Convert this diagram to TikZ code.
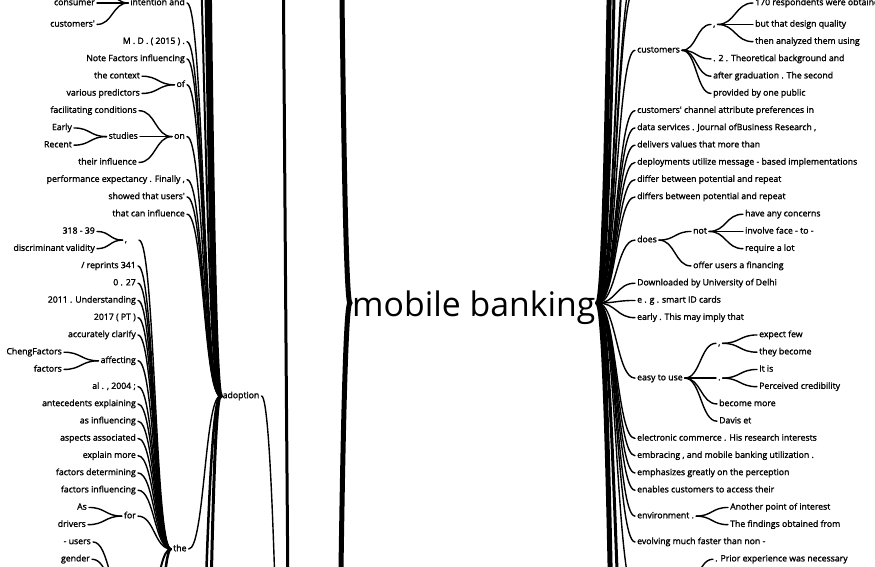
\documentclass[tikz,border=0pt]{standalone}
\usepackage{fontspec}
\setmainfont{Open Sans}
\newfontfamily\lfam[FakeBold=1.6]{Open Sans}
\usetikzlibrary{calc}
\newcommand\lf{\lfam\fontsize{8.7}{10}\selectfont}
\newcommand\wl[3][]{\draw[lk,#1] let \p1=(#2), \p2=(#3) in (\p1) .. controls ({(\x1+\x2)/2},\y1) and ({(\x1+\x2)/2},\y2) .. (\p2);}
\tikzset{
  lbl/.style={font=\lf, inner xsep=2pt, inner ysep=0pt, text height=6.5pt, text depth=2.1pt},
  L/.style={lbl, anchor=east},
  R/.style={lbl, anchor=west},
  lk/.style={line width=1.4pt, black, line cap=round}
}
\begin{document}
\begin{tikzpicture}[x=1pt,y=-1pt]
\useasboundingbox (0,0) rectangle (875,567);
\clip (0,0) rectangle (875,567);
\fill[white] (0,0) rectangle (875,567);
% root
\node[font=\fontsize{33.8}{40}\selectfont, inner xsep=2pt, inner ysep=0pt, text height=36pt, text depth=8.6pt, anchor=west] (root) at (350,303) {mobile banking};
% ---------- left tree ----------
\node[R] (adop) at (220.5,396) {adoption};
\node[R] (the) at (171,549) {the};
\node[L] (iand) at (187,3) {intention and};
\node[L] (cons) at (97,3) {consumer};
\node[L] (cust) at (97,24.45) {customers'};
\node[L] (md) at (187,41.7) {M . D . ( 2015 ) .};
\node[L] (note) at (187,58.95) {Note Factors influencing};
\node[L] (ofa) at (187,84.8) {of};
\node[L] (ctx) at (142,76.2) {the context};
\node[L] (vp) at (142,93.45) {various predictors};
\node[L] (on) at (187,136.6) {on};
\node[L] (fc) at (139,110.7) {facilitating conditions};
\node[L] (stu) at (140,136.6) {studies};
\node[L] (early) at (74,127.95) {Early};
\node[L] (recent) at (74,145.2) {Recent};
\node[L] (ti) at (139,162.45) {their influence};
\node[L] (perf) at (187,179.7) {performance expectancy . Finally ,};
\node[L] (sho) at (187,196.95) {showed that users'};
\node[L] (tci) at (187,214.2) {that can influence};
\node[L, text width=12pt, align=left] (cm) at (139,240.1) {,};
\node[L] (n318) at (97,231.45) {318 - 39};
\node[L] (dv) at (97,248.7) {discriminant validity};
\node[L] (rep) at (138,265.95) {/ reprints 341};
\node[L] (n027) at (138,283.2) {0 . 27};
\node[L] (u2011) at (138,300.45) {2011 . Understanding};
\node[L] (pt) at (138,317.7) {2017 ( PT )};
\node[L] (acc) at (138,334.95) {accurately clarify};
\node[L] (aff) at (138,360.8) {affecting};
\node[L] (cheng) at (64,352.2) {ChengFactors};
\node[L] (fac) at (64,369.45) {factors};
\node[L] (al) at (138,386.7) {al . , 2004 ;};
\node[L] (ant) at (138,403.95) {antecedents explaining};
\node[L] (asi) at (138,421.2) {as influencing};
\node[L] (asp) at (138,438.45) {aspects associated};
\node[L] (exm) at (138,455.7) {explain more};
\node[L] (fdet) at (138,472.95) {factors determining};
\node[L] (finf) at (138,490.2) {factors influencing};
\node[L] (forn) at (138,516.1) {for};
\node[L] (as) at (89,507.45) {As};
\node[L] (drv) at (88,524.7) {drivers};
\node[L] (usr) at (93,541.95) {- users};
\node[L] (gen) at (92,559.2) {gender};
% off-canvas ends (left)
\coordinate (iandUp) at (97,-15.25);
\coordinate (adUp1) at (187,-250);
\coordinate (adUp2) at (187,-700);
\coordinate (adUp3) at (187,-1600);
\coordinate (adDn1) at (187,900);
\coordinate (adDn2) at (187,1800);
\coordinate (theDn1) at (139,650);
\coordinate (theDn2) at (139,1000);
\coordinate (usrP) at (126,600);
\coordinate (ofW) at (305,1500);
\coordinate (ofE) at (324,1500);
\coordinate (upE) at (324,-1500);
\coordinate (ofUp) at (262,-1500);
% links (left)
\wl{cons.east}{iand.west}
\wl{cust.east}{iand.west}
\wl{iandUp}{iand.west}
\foreach \q in {iand,md,note,ofa,on,perf,sho,tci,the} {\wl{\q.east}{adop.west}}
\wl[line width=2pt]{adUp1}{adop.west}
\wl[line width=3pt]{adUp2}{adop.west}
\wl[line width=5pt]{adUp3}{adop.west}
\wl[line width=2.5pt]{adDn1}{adop.west}
\wl[line width=3pt]{adDn2}{adop.west}
\wl{ctx.east}{ofa.west}
\wl{vp.east}{ofa.west}
\wl{fc.east}{on.west}
\wl{stu.east}{on.west}
\wl{ti.east}{on.west}
\wl{early.east}{stu.west}
\wl{recent.east}{stu.west}
\foreach \q in {cm,rep,n027,u2011,pt,acc,aff,al,ant,asi,asp,exm,fdet,finf,forn} {\wl{\q.east}{the.west}}
\wl[line width=2pt]{theDn1}{the.west}
\wl[line width=2.5pt]{theDn2}{the.west}
\wl{n318.east}{cm.west}
\wl{dv.east}{cm.west}
\wl{cheng.east}{aff.west}
\wl{fac.east}{aff.west}
\wl{as.east}{forn.west}
\wl{drv.east}{forn.west}
\wl{usr.east}{usrP}
\wl{gen.east}{usrP}
\wl{adop.east}{ofW}
\wl[line width=3pt]{ofUp}{ofW}
\wl[line width=5pt]{upE}{root.west}
\wl[line width=5pt]{ofE}{root.west}
% ---------- right tree ----------
\node[R] (cu) at (635,50.3) {customers};
\node[R] (cm1) at (711,24.45) {,};
\node[R] (resp) at (753,3) {170 respondents were obtained};
\node[R] (bdq) at (753,24.45) {but that design quality};
\node[R] (then) at (753,41.7) {then analyzed them using};
\node[R] (theo) at (711,58.95) {. 2 . Theoretical background and};
\node[R] (grad) at (711,76.2) {after graduation . The second};
\node[R] (prov) at (711,93.45) {provided by one public};
\node[R] (chan) at (635,110.7) {customers' channel attribute preferences in};
\node[R] (data) at (635,127.95) {data services . Journal ofBusiness Research ,};
\node[R] (deliv) at (635,145.2) {delivers values that more than};
\node[R] (depl) at (635,162.45) {deployments utilize message - based implementations};
\node[R] (diff) at (635,179.7) {differ between potential and repeat};
\node[R] (diffs) at (635,196.95) {differs between potential and repeat};
\node[R] (does) at (635,240.1) {does};
\node[R] (not) at (691,231.45) {not};
\node[R] (conc) at (743,214.2) {have any concerns};
\node[R] (face) at (743,231.45) {involve face - to -};
\node[R] (lot) at (743,248.7) {require a lot};
\node[R] (offer) at (691,265.95) {offer users a financing};
\node[R] (down) at (635,283.2) {Downloaded by University of Delhi};
\node[R] (eg) at (635,300.45) {e . g . smart ID cards};
\node[R] (earl) at (635,317.7) {early . This may imply that};
\node[R] (easy) at (635,378.1) {easy to use};
\node[R] (cm2) at (716,343.3) {,};
\node[R] (expf) at (757,334.95) {expect few};
\node[R] (theyb) at (757,352.2) {they become};
\node[R] (dot) at (716,378.1) {.};
\node[R] (itis) at (757,369.45) {It is};
\node[R] (perc) at (757,386.7) {Perceived credibility};
\node[R] (bmore) at (717,403.95) {become more};
\node[R] (davis) at (717,421.2) {Davis et};
\node[R] (elec) at (635,438.45) {electronic commerce . His research interests};
\node[R] (emb) at (635,455.7) {embracing , and mobile banking utilization .};
\node[R] (emph) at (635,472.95) {emphasizes greatly on the perception};
\node[R] (enab) at (635,490.2) {enables customers to access their};
\node[R] (env) at (635,516.1) {environment .};
\node[R] (anoth) at (728,507.45) {Another point of interest};
\node[R] (find) at (728,524.7) {The findings obtained from};
\node[R] (evol) at (635,541.95) {evolving much faster than non -};
\node[R] (prior) at (713,559.2) {. Prior experience was necessary};
% off-canvas ends (right)
\coordinate (pW) at (635,594);
\coordinate (pE) at (681,594);
\coordinate (ru1) at (635,-12);
\coordinate (ru2) at (635,-29);
\coordinate (ru3) at (635,-120);
\coordinate (ru4) at (635,-500);
\coordinate (ru5) at (635,-1500);
\coordinate (rd1) at (635,800);
\coordinate (rd2) at (635,1600);
% links (right)
\foreach \q in {cu,chan,data,deliv,depl,diff,diffs,does,down,eg,earl,easy,elec,emb,emph,enab,env,evol} {\wl{root.east}{\q.west}}
\wl{root.east}{pW}
\wl{root.east}{ru1}
\wl{root.east}{ru2}
\wl[line width=2pt]{root.east}{ru3}
\wl[line width=3pt]{root.east}{ru4}
\wl[line width=5pt]{root.east}{ru5}
\wl[line width=3pt]{root.east}{rd1}
\wl[line width=5pt]{root.east}{rd2}
\foreach \q in {cm1,theo,grad,prov} {\wl{cu.east}{\q.west}}
\foreach \q in {resp,bdq,then} {\wl{cm1.east}{\q.west}}
\wl{does.east}{not.west}
\wl{does.east}{offer.west}
\foreach \q in {conc,face,lot} {\wl{not.east}{\q.west}}
\foreach \q in {cm2,dot,bmore,davis} {\wl{easy.east}{\q.west}}
\wl{cm2.east}{expf.west}
\wl{cm2.east}{theyb.west}
\wl{dot.east}{itis.west}
\wl{dot.east}{perc.west}
\wl{env.east}{anoth.west}
\wl{env.east}{find.west}
\wl{pE}{prior.west}
\end{tikzpicture}
\end{document}
